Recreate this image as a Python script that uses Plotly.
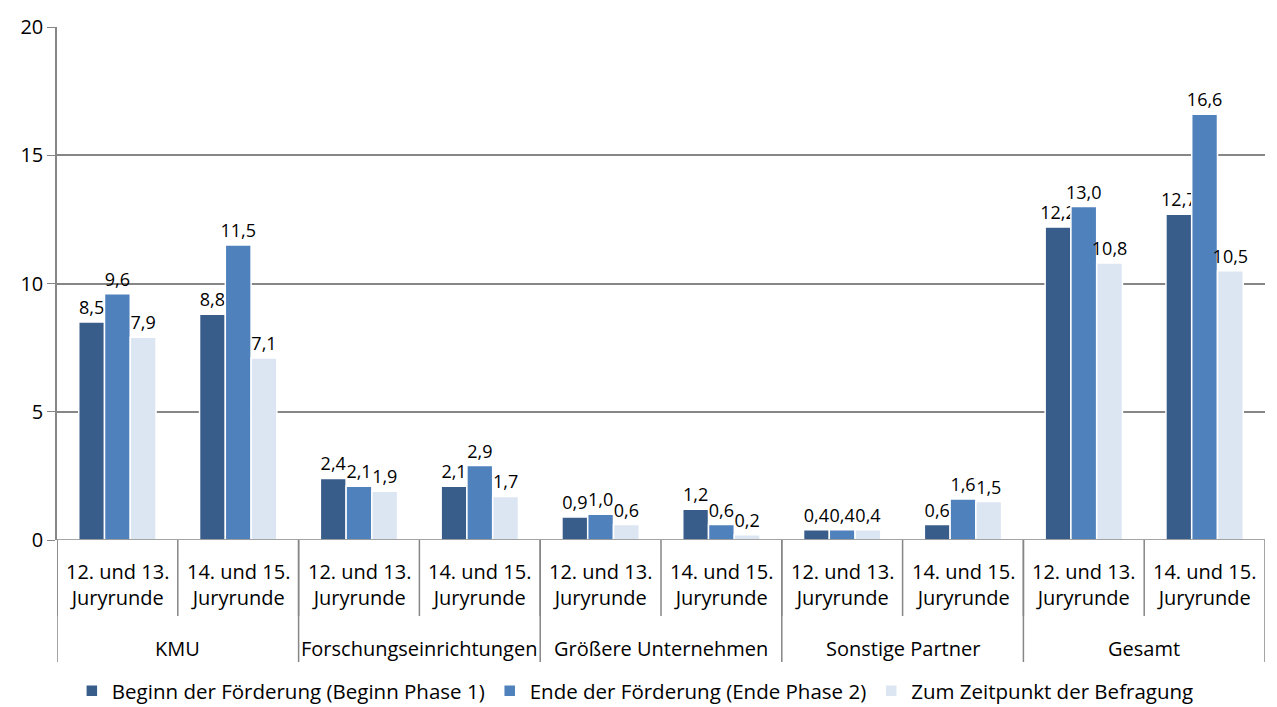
import plotly.graph_objects as go

# Daten
gruppen = ["KMU", "Forschungseinrichtungen", "Größere Unternehmen", "Sonstige Partner", "Gesamt"]
runden = ["12. und 13.<br>Juryrunde", "14. und 15.<br>Juryrunde"]

beginn = [8.5, 8.8, 2.4, 2.1, 0.9, 1.2, 0.4, 0.6, 12.2, 12.7]
ende = [9.6, 11.5, 2.1, 2.9, 1.0, 0.6, 0.4, 1.6, 13.0, 16.6]
befragung = [7.9, 7.1, 1.9, 1.7, 0.6, 0.2, 0.4, 1.5, 10.8, 10.5]

serien = [
    ("Beginn der Förderung (Beginn Phase 1)", beginn, "#385d8a"),
    ("Ende der Förderung (Ende Phase 2)", ende, "#4f81bd"),
    ("Zum Zeitpunkt der Befragung", befragung, "#dce6f2"),
]

# eindeutige Kategorien je Gruppe/Runde
kategorien = [g + "|" + str(i) for g in gruppen for i in range(len(runden))]

schrift = "Open Sans, Noto Sans, sans-serif"

fig = go.Figure()
for name, werte, farbe in serien:
    fig.add_trace(go.Bar(
        x=kategorien, y=werte, name=name,
        marker=dict(color=farbe, line=dict(color="white", width=1.5)),
        texttemplate="%{y:.1f}", textposition="outside",
        textfont=dict(size=18, color="black"),
        constraintext="none", cliponaxis=False,
    ))

grau = "#868686"
annots = []
shapes = []
for k, kat in enumerate(kategorien):
    annots.append(dict(x=kat, y=0, xref="x", yref="paper", yanchor="top",
                       yshift=-16, text=runden[k % 2], showarrow=False,
                       font=dict(size=20, color="black")))
    # innere Trennlinien
    shapes.append(dict(type="line", xref="x", yref="paper", ysizemode="pixel",
                       yanchor=0, x0=k - 0.5, x1=k - 0.5, y0=0, y1=-76,
                       line=dict(color=grau, width=1.5)))
for j, g in enumerate(gruppen):
    annots.append(dict(x=2 * j + 0.5, y=0, xref="x", yref="paper", yanchor="top",
                       yshift=-93, text=g, showarrow=False,
                       font=dict(size=20, color="black")))
for j in range(len(gruppen) + 1):
    shapes.append(dict(type="line", xref="x", yref="paper", ysizemode="pixel",
                       yanchor=0, x0=2 * j - 0.5, x1=2 * j - 0.5, y0=0, y1=-122,
                       line=dict(color=grau, width=1.5)))
# Grundlinie
shapes.append(dict(type="line", xref="paper", yref="y", x0=0, x1=1, y0=0, y1=0,
                   line=dict(color=grau, width=1.5)))

fig.update_layout(
    width=1277, height=707,
    margin=dict(l=49, r=20, t=19, b=175, autoexpand=False),
    plot_bgcolor="white", paper_bgcolor="white",
    font=dict(family=schrift, size=20, color="black"),
    separators=",.",
    barmode="group", bargap=0.36, bargroupgap=0.0,
    annotations=annots, shapes=shapes,
    legend=dict(orientation="h", xref="container", yref="container",
                x=0.05, xanchor="left", y=0.034, yanchor="middle",
                font=dict(size=20.5), traceorder="normal", itemwidth=30),
    showlegend=True,
)
fig.update_xaxes(showticklabels=False, showgrid=False, zeroline=False,
                 automargin=False, range=[-0.5, len(kategorien) - 0.5])
fig.update_yaxes(range=[0, 20], dtick=5, showgrid=True, gridcolor=grau, gridwidth=1.5,
                 zeroline=False, showline=True, linecolor=grau, linewidth=1.5,
                 ticks="outside", ticklen=8, tickcolor=grau, automargin=False,
                 tickfont=dict(size=20))

fig.write_html("out.html")
